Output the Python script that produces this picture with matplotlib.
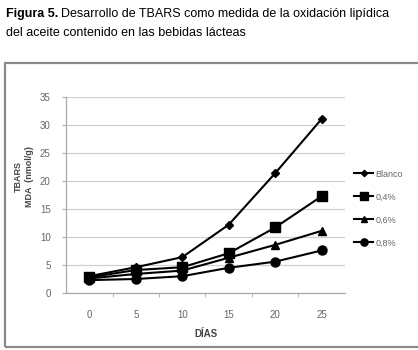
import numpy as np
import matplotlib.pyplot as plt
from matplotlib.patches import Rectangle

# Data
dias = [0, 5, 10, 15, 20, 25]
blanco = [3.0, 4.6, 6.4, 12.2, 21.4, 31.1]
conc_04 = [2.8, 4.1, 4.6, 7.1, 11.7, 17.3]
conc_06 = [2.6, 3.4, 4.0, 6.3, 8.6, 11.1]
conc_08 = [2.3, 2.5, 3.0, 4.5, 5.6, 7.6]
series_labels = ['Blanco', '0,4%', '0,6%', '0,8%']

plt.rcParams['font.family'] = ['Liberation Sans', 'DejaVu Sans']

fig = plt.figure(figsize=(4.18, 3.5), dpi=100)
renderer = fig.canvas.get_renderer()

# Caption: bold lead-in followed by regular text
t_bold = fig.text(6/418, 1 - 14/350, 'Figura 5.', fontsize=9, fontweight='bold',
                  va='center', ha='left')
bb = t_bold.get_window_extent(renderer)
fig.text((bb.x1 + 3)/418, 1 - 14/350, 'Desarrollo de TBARS como medida de la oxidación lipídica',
         fontsize=9, va='center', ha='left')
fig.text(6/418, 1 - 33/350, 'del aceite contenido en las bebidas lácteas',
         fontsize=9, va='center', ha='left')

# Frame around the chart
fig.patches.append(Rectangle((5/418, 1 - 347/350), 420/418, (347 - 63)/350,
                             transform=fig.transFigure, fill=False,
                             edgecolor='#8a8a8a', linewidth=1.6))

ax = fig.add_axes([66/418, 1 - 293/350, (345 - 66)/418, (293 - 97)/350])
x = np.arange(len(dias))

styles = [('D', 4), ('s', 7), ('^', 6), ('o', 6.5)]
for vals, lab, (m, ms) in zip([blanco, conc_04, conc_06, conc_08], series_labels, styles):
    ax.plot(x, vals, color='black', linewidth=1.5, marker=m, markersize=ms, label=lab)

ax.set_xlim(-0.5, len(dias) - 0.5)
ax.set_ylim(0, 35)
ax.set_yticks(range(0, 36, 5))
ax.set_xticks(x)
ax.set_xticklabels([str(d) for d in dias])
ax.set_xticks(np.arange(0.5, len(dias) - 1, 1), minor=True)
ax.tick_params(axis='x', which='major', length=0, pad=12, labelsize=7, labelcolor='#666666')
ax.tick_params(axis='x', which='minor', length=3, color='#aaaaaa', direction='out')
ax.tick_params(axis='y', length=3, color='#aaaaaa', labelsize=7, labelcolor='#666666', pad=8)

ax.grid(True, axis='y', color='#d0d0d0', linewidth=0.9)
ax.set_axisbelow(True)
for s in ['top', 'right']:
    ax.spines[s].set_visible(False)
for s in ['left', 'bottom']:
    ax.spines[s].set_color('#aaaaaa')
    ax.spines[s].set_linewidth(0.9)

ax.set_xlabel('DÍAS', fontsize=7, fontweight='bold', color='#444444', labelpad=7)
fig.text(24/418, 1 - 177/350, 'TBARS\nMDA  (nmol/g)', rotation=90, fontsize=6.5,
         fontweight='bold', color='#444444', ha='center', va='center', linespacing=1.2)

ax.legend(loc='upper left', bbox_to_anchor=(350/418, 1 - 166/350), bbox_transform=fig.transFigure,
          frameon=False, fontsize=6.5, labelcolor='#666666', handlelength=2.2,
          handletextpad=0.2, labelspacing=1.55, markerscale=0.8, borderaxespad=0)

fig.savefig('out.png', dpi=100)
